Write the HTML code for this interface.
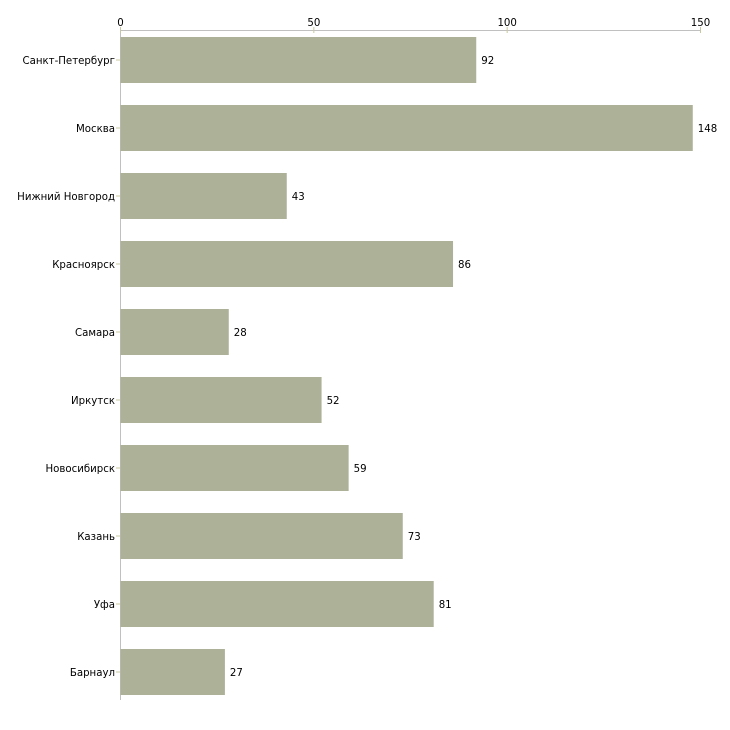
<!DOCTYPE html>
<html><head><meta charset="utf-8"><style>
body{margin:0;background:#fff}
svg{display:block;font-family:"DejaVu Sans","Liberation Sans",sans-serif;font-size:10.2px}
</style></head><body>
<svg id="chart" width="730" height="730" xmlns="http://www.w3.org/2000/svg"></svg>
<script>
const categories=["Санкт-Петербург","Москва","Нижний Новгород","Красноярск","Самара","Иркутск","Новосибирск","Казань","Уфа","Барнаул"];
const values=[92,148,43,86,28,52,59,73,81,27];
const ticks=[0,50,100,150];
const NS="http://www.w3.org/2000/svg";
const svg=document.getElementById('chart');
const x0=120.5,x1=700.5,xmax=150;
const xs=v=>x0+(x1-x0)*v/xmax;
const top0=26,band=68;
const ys=i=>top0+i*band;
function mk(t,a){const e=document.createElementNS(NS,t);for(const k in a)e.setAttribute(k,a[k]);svg.appendChild(e);return e;}
let ax=mk('line',{x1:x0,x2:x1,y1:30.5,y2:30.5,stroke:'#c0c0c0'});


let ay=mk('line',{x1:x0,x2:x0,y1:30,y2:700,stroke:'#c0c0c0'});


ticks.forEach(t=>{
 let l=mk('line',{x1:xs(t),x2:xs(t),y1:27,y2:33,stroke:'#c8c8a0'});
 
 
 let tx=mk('text',{x:xs(t),y:26,'text-anchor':'middle',fill:'#000'});
 tx.textContent=t;
 
 
});
categories.forEach((c,i)=>{
 const yc=ys(i)+band/2;
 let r=mk('rect',{x:x0,y:ys(i)+11,width:xs(values[i])-x0,height:46,fill:'#acb197'});
 
 
 let v=mk('text',{x:xs(values[i])+5,y:yc+4,fill:'#000'});
 v.textContent=values[i];
 
 
 let tk=mk('line',{x1:116,x2:120,y1:yc,y2:yc,stroke:'#c8c8a0'});
 
 
 let lb=mk('text',{x:115,y:yc+4,'text-anchor':'end',fill:'#000'});
 lb.textContent=c;
 
 
});
</script>
</body></html>
